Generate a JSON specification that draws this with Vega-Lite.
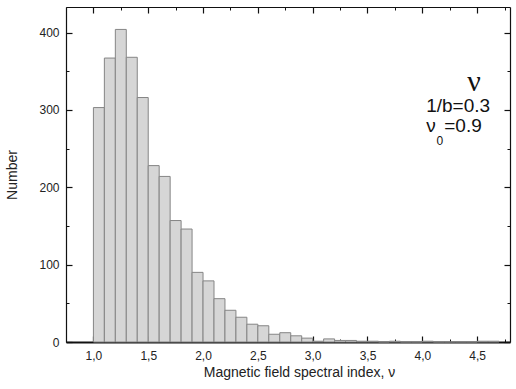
{
  "$schema": "https://vega.github.io/schema/vega-lite/v6.json",
  "width": 444,
  "height": 335,
  "autosize": {"type": "none"},
  "padding": {"left": 66, "top": 7, "right": 6, "bottom": 47},
  "config": {
    "view": {"stroke": null},
    "axis": {"grid": false, "tickColor": "#111", "domainColor": "#111"}
  },
  "data": {"values": [
      {"start": 1.0, "end": 1.1, "count": 303},
      {"start": 1.1, "end": 1.2, "count": 367},
      {"start": 1.2, "end": 1.3, "count": 404},
      {"start": 1.3, "end": 1.4, "count": 368},
      {"start": 1.4, "end": 1.5, "count": 316},
      {"start": 1.5, "end": 1.6, "count": 228},
      {"start": 1.6, "end": 1.7, "count": 214},
      {"start": 1.7, "end": 1.8, "count": 157},
      {"start": 1.8, "end": 1.9, "count": 146},
      {"start": 1.9, "end": 2.0, "count": 90},
      {"start": 2.0, "end": 2.1, "count": 79},
      {"start": 2.1, "end": 2.2, "count": 56},
      {"start": 2.2, "end": 2.3, "count": 41},
      {"start": 2.3, "end": 2.4, "count": 32},
      {"start": 2.4, "end": 2.5, "count": 23},
      {"start": 2.5, "end": 2.6, "count": 21},
      {"start": 2.6, "end": 2.7, "count": 10},
      {"start": 2.7, "end": 2.8, "count": 12},
      {"start": 2.8, "end": 2.9, "count": 8},
      {"start": 2.9, "end": 3.0, "count": 5},
      {"start": 3.0, "end": 3.1, "count": 1},
      {"start": 3.1, "end": 3.2, "count": 4},
      {"start": 3.2, "end": 3.3, "count": 2},
      {"start": 3.3, "end": 3.4, "count": 2},
      {"start": 3.4, "end": 3.5, "count": 1},
      {"start": 3.5, "end": 3.6, "count": 1},
      {"start": 3.6, "end": 3.7, "count": 0},
      {"start": 3.7, "end": 3.8, "count": 1},
      {"start": 3.8, "end": 3.9, "count": 0},
      {"start": 3.9, "end": 4.0, "count": 0},
      {"start": 4.0, "end": 4.1, "count": 1},
      {"start": 4.1, "end": 4.2, "count": 0},
      {"start": 4.2, "end": 4.3, "count": 0},
      {"start": 4.3, "end": 4.4, "count": 0},
      {"start": 4.4, "end": 4.5, "count": 0},
      {"start": 4.5, "end": 4.6, "count": 1},
      {"start": 4.6, "end": 4.7, "count": 1}
  ]},
  "resolve": {"axis": {"x": "independent", "y": "independent"}},
  "layer": [
    {
      "mark": {"type": "bar", "fill": "#d6d6d6", "stroke": "#858585", "strokeWidth": 1},
      "encoding": {
        "x": {"field": "start", "type": "quantitative", "scale": {"domain": [0.75, 4.8], "nice": false, "zero": false},
          "axis": {"orient": "bottom", "offset": -6, "values": [1, 1.5, 2, 2.5, 3, 3.5, 4, 4.5], "labelExpr": "replace(format(datum.value, '.1f'), /\\./, ',')", "tickSize": 6, "tickWidth": 1.2, "domain": false, "labelFont": "Liberation Sans", "labelColor": "#222", "labelFontSize": 12, "labelPadding": 8, "title": "Magnetic field spectral index, ν", "titleFont": "Liberation Sans", "titleColor": "#222", "titleFontWeight": "normal", "titleFontSize": 14, "titlePadding": 4, "titleX": 233}},
        "x2": {"field": "end"},
        "y": {"field": "count", "type": "quantitative", "scale": {"domain": [0, 433], "nice": false},
          "axis": {"orient": "left", "offset": -6, "values": [0, 100, 200, 300, 400], "tickSize": 6, "tickWidth": 1.2, "domain": false, "labelFont": "Liberation Sans", "labelColor": "#222", "labelFontSize": 12, "labelPadding": 7, "title": "Number", "titleFont": "Liberation Sans", "titleColor": "#222", "titleFontWeight": "normal", "titleFontSize": 14, "titlePadding": 19}},
        "y2": {"datum": 0}
      }
    },
    {
      "mark": {"type": "bar", "opacity": 0},
      "encoding": {
        "x": {"field": "start", "type": "quantitative", "scale": {"domain": [0.75, 4.8], "nice": false, "zero": false},
          "axis": {"orient": "top", "offset": -6, "values": [1, 1.5, 2, 2.5, 3, 3.5, 4, 4.5], "tickSize": 6, "tickWidth": 1.2, "labels": false, "domain": false, "title": null}},
        "x2": {"field": "end"},
        "y": {"field": "count", "type": "quantitative", "scale": {"domain": [0, 433], "nice": false},
          "axis": {"orient": "right", "offset": -6, "values": [0, 100, 200, 300, 400], "tickSize": 6, "tickWidth": 1.2, "labels": false, "domain": false, "title": null}},
        "y2": {"datum": 0}
      }
    },
    {
      "mark": {"type": "bar", "opacity": 0},
      "encoding": {
        "x": {"field": "start", "type": "quantitative", "scale": {"domain": [0.75, 4.8], "nice": false, "zero": false},
          "axis": {"orient": "bottom", "offset": -3, "values": [0.75, 1.25, 1.75, 2.25, 2.75, 3.25, 3.75, 4.25, 4.75], "tickSize": 3, "labels": false, "domain": false, "title": null}},
        "x2": {"field": "end"},
        "y": {"field": "count", "type": "quantitative", "scale": {"domain": [0, 433], "nice": false},
          "axis": {"orient": "left", "offset": -3, "values": [50, 150, 250, 350], "tickSize": 3, "labels": false, "domain": false, "title": null}},
        "y2": {"datum": 0}
      }
    },
    {
      "mark": {"type": "bar", "opacity": 0},
      "encoding": {
        "x": {"field": "start", "type": "quantitative", "scale": {"domain": [0.75, 4.8], "nice": false, "zero": false},
          "axis": {"orient": "top", "offset": -3, "values": [0.75, 1.25, 1.75, 2.25, 2.75, 3.25, 3.75, 4.25, 4.75], "tickSize": 3, "labels": false, "domain": false, "title": null}},
        "x2": {"field": "end"},
        "y": {"field": "count", "type": "quantitative", "scale": {"domain": [0, 433], "nice": false},
          "axis": {"orient": "right", "offset": -3, "values": [50, 150, 250, 350], "tickSize": 3, "labels": false, "domain": false, "title": null}},
        "y2": {"datum": 0}
      }
    },
    {
      "mark": {"type": "bar", "opacity": 0},
      "encoding": {
        "x": {"field": "start", "type": "quantitative", "scale": {"domain": [0.75, 4.8], "nice": false, "zero": false},
          "axis": {"orient": "bottom", "ticks": false, "labels": false, "domain": true, "domainWidth": 2, "title": null}},
        "x2": {"field": "end"},
        "y": {"field": "count", "type": "quantitative", "scale": {"domain": [0, 433], "nice": false},
          "axis": {"orient": "left", "ticks": false, "labels": false, "domain": true, "domainWidth": 1.2, "title": null}},
        "y2": {"datum": 0}
      }
    },
    {
      "mark": {"type": "bar", "opacity": 0},
      "encoding": {
        "x": {"field": "start", "type": "quantitative", "scale": {"domain": [0.75, 4.8], "nice": false, "zero": false},
          "axis": {"orient": "top", "ticks": false, "labels": false, "domain": true, "domainWidth": 1.2, "title": null}},
        "x2": {"field": "end"},
        "y": {"field": "count", "type": "quantitative", "scale": {"domain": [0, 433], "nice": false},
          "axis": {"orient": "right", "ticks": false, "labels": false, "domain": true, "domainWidth": 1.2, "title": null}},
        "y2": {"datum": 0}
      }
    },
    {
      "data": {"values": [{"x": 4.41, "y": 325, "label": "ν"}]},
      "mark": {"type": "text", "font": "Liberation Serif", "fontSize": 30, "align": "left", "baseline": "alphabetic", "color": "#111"},
      "encoding": {
        "x": {"field": "x", "type": "quantitative", "axis": null},
        "y": {"field": "y", "type": "quantitative", "axis": null},
        "text": {"field": "label"}
      }
    },
    {
      "data": {"values": [
        {"x": 4.035, "y": 297.5, "label": "1/b=0.3"},
        {"x": 4.035, "y": 271.7, "label": "ν"},
        {"x": 4.2, "y": 271.7, "label": "=0.9"}
      ]},
      "mark": {"type": "text", "font": "Liberation Sans", "fontSize": 19, "align": "left", "baseline": "alphabetic", "color": "#111"},
      "encoding": {
        "x": {"field": "x", "type": "quantitative", "axis": null},
        "y": {"field": "y", "type": "quantitative", "axis": null},
        "text": {"field": "label"}
      }
    },
    {
      "data": {"values": [{"x": 4.13, "y": 254.9, "label": "0"}]},
      "mark": {"type": "text", "font": "Liberation Sans", "fontSize": 12, "align": "left", "baseline": "alphabetic", "color": "#111"},
      "encoding": {
        "x": {"field": "x", "type": "quantitative", "axis": null},
        "y": {"field": "y", "type": "quantitative", "axis": null},
        "text": {"field": "label"}
      }
    }
  ]
}
